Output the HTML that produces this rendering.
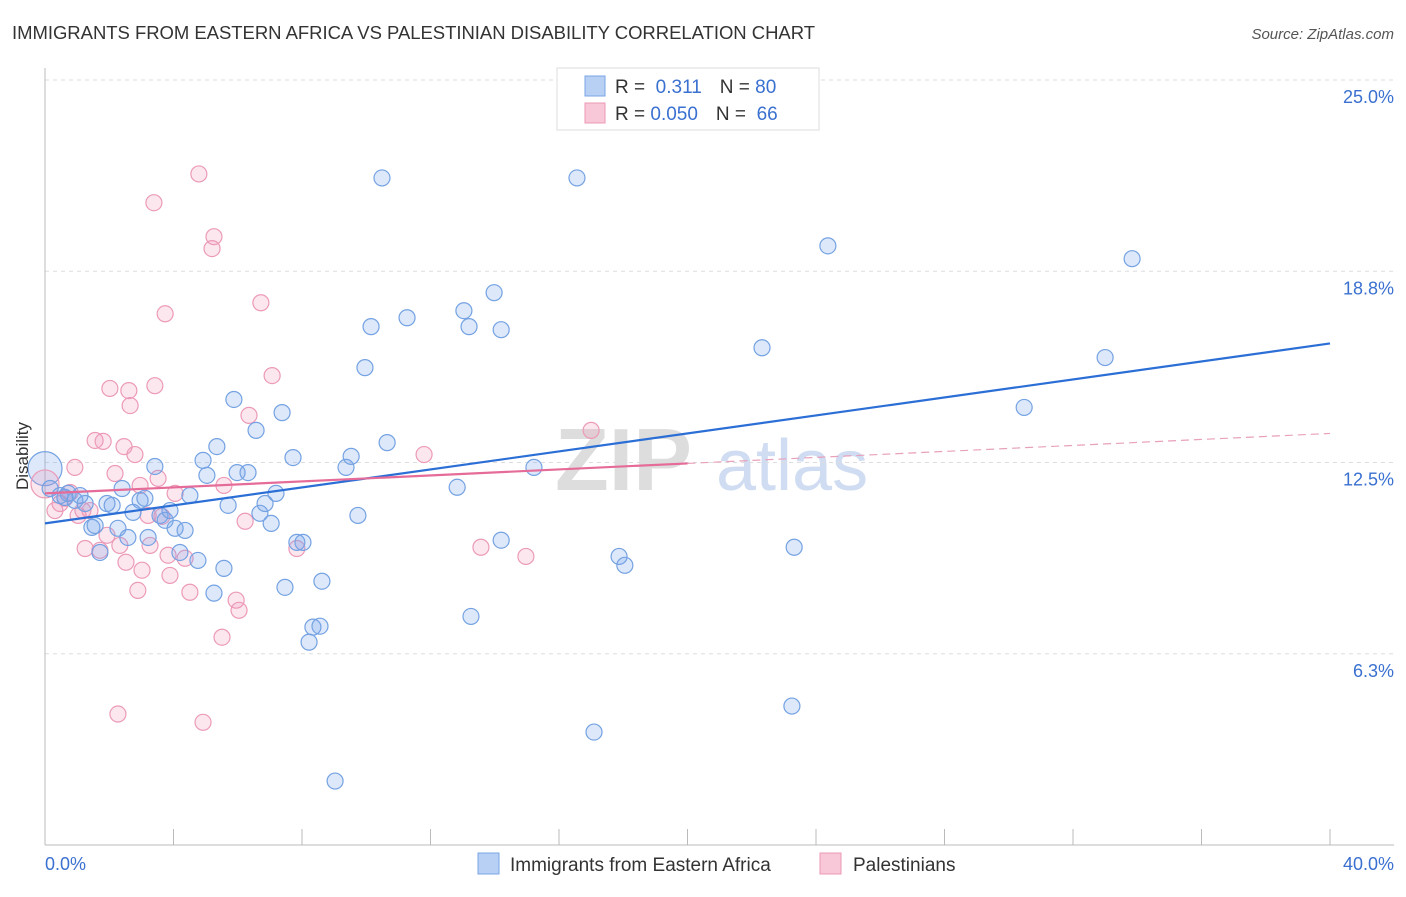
<!DOCTYPE html>
<html><head><meta charset="utf-8">
<style>
body{margin:0;background:#fff;font-family:"Liberation Sans",sans-serif;}
svg text{font-family:"Liberation Sans",sans-serif;}
</style></head>
<body>
<svg id="chart" width="1406" height="892" xmlns="http://www.w3.org/2000/svg">
<text x="12" y="39" font-size="18.5" fill="#333" textLength="803">IMMIGRANTS FROM EASTERN AFRICA VS PALESTINIAN DISABILITY CORRELATION CHART</text>
<text x="1394" y="39" font-size="15" fill="#555" font-style="italic" text-anchor="end">Source: ZipAtlas.com</text>
<g>
<text x="555" y="490" font-size="88" fill="#ddd" font-family="Liberation Serif" font-weight="bold">ZIP</text>
<text x="716" y="490" font-size="72" fill="#cfdcf1">atlas</text>
</g>
<g id="grid"></g>
<g id="axes"></g>
<g id="pts"></g>
<g id="lines"></g>
<text x="28" y="456" font-size="17" fill="#333" transform="rotate(-90 28 456)" text-anchor="middle">Disability</text>
<text x="45" y="870" font-size="18" fill="#3a70d0">0.0%</text>
<text x="1394" y="870" font-size="18" fill="#3a70d0" text-anchor="end">40.0%</text>
<g>
<rect x="557" y="68" width="262" height="62" fill="#fff" stroke="#ddd"/>
<rect x="585" y="76" width="20" height="20" fill="#b8d0f4" stroke="#7aa4e4"/>
<rect x="585" y="103" width="20" height="20" fill="#f9c8d8" stroke="#ec98b6"/>
<text x="615" y="93" font-size="19" fill="#333">R = <tspan fill="#3a70d0">&#160;0.311</tspan><tspan dx="18">N =</tspan><tspan fill="#3a70d0"> 80</tspan></text>
<text x="615" y="120" font-size="19" fill="#333">R = <tspan fill="#3a70d0">0.050</tspan><tspan dx="18">N =</tspan><tspan fill="#3a70d0">&#160; 66</tspan></text>
</g>
<g>
<rect x="478" y="853" width="21" height="21" fill="#b8d0f4" stroke="#7aa4e4"/>
<text x="510" y="871" font-size="19" fill="#333">Immigrants from Eastern Africa</text>
<rect x="820" y="853" width="21" height="21" fill="#f9c8d8" stroke="#ec98b6"/>
<text x="853" y="871" font-size="19" fill="#333">Palestinians</text>
</g>
</svg>
<script>
const yTicks=[6.25,12.5,18.75,25];
const yTickLabels=["6.3%","12.5%","18.8%","25.0%"];
const xTicks=[0,4,8,12,16,20,24,28,32,36,40];
const blueX=[0.16,0.47,0.72,0.93,1.09,0.62,1.25,1.46,1.56,1.71,1.93,2.09,2.27,2.40,2.58,2.74,2.96,3.11,3.21,3.42,3.58,3.74,3.89,4.05,4.20,4.36,4.51,4.76,4.92,5.04,5.26,5.35,5.57,5.70,5.88,5.98,6.32,6.57,6.69,6.85,7.04,7.19,7.38,7.47,7.72,7.84,8.03,8.22,8.34,8.56,8.62,9.03,9.37,9.53,9.74,9.96,10.15,10.49,10.65,11.27,12.83,13.04,13.20,13.26,13.98,14.20,14.20,15.22,16.56,17.09,17.87,18.05,22.32,23.25,23.32,24.37,30.48,33.00,33.84];
const blueY=[11.65,11.42,11.49,11.26,11.42,11.36,11.16,10.38,10.44,9.56,11.16,11.10,10.35,11.65,10.05,10.87,11.26,11.33,10.05,12.37,10.77,10.61,10.93,10.35,9.56,10.28,11.42,9.30,12.57,12.08,8.23,13.02,9.04,11.10,14.56,12.17,12.17,13.55,10.84,11.16,10.51,11.49,14.13,8.42,12.66,9.89,9.89,6.63,7.12,7.15,8.62,2.09,12.34,12.70,10.77,15.60,16.94,21.80,13.15,17.23,11.69,17.46,16.94,7.47,18.05,16.84,9.96,12.34,21.80,3.69,9.43,9.14,16.25,4.54,9.73,19.58,14.30,15.93,19.16];
const pinkX=[0.31,0.47,0.62,0.78,0.93,1.03,1.18,1.25,1.40,1.56,1.71,1.81,1.93,2.02,2.18,2.27,2.33,2.46,2.52,2.61,2.65,2.80,2.89,2.96,3.02,3.21,3.27,3.39,3.42,3.52,3.64,3.74,3.83,3.89,4.05,4.36,4.51,4.79,4.92,5.20,5.26,5.51,5.57,5.95,6.04,6.23,6.35,6.72,7.07,7.84,11.80,13.57,14.97,17.00];
const pinkY=[10.93,11.16,11.33,11.52,12.34,10.77,10.93,9.69,10.93,13.22,9.63,13.19,10.12,14.92,12.14,4.28,9.79,13.02,9.24,14.85,14.36,12.76,8.32,11.75,8.98,10.77,9.79,20.99,15.01,11.98,10.74,17.36,9.47,8.81,11.49,9.37,8.26,21.93,4.01,19.49,19.88,6.79,11.75,8.00,7.67,10.58,14.04,17.72,15.34,9.69,12.76,9.73,9.43,13.55];
const bigBlue=[0.0,12.3];
const bigPink=[0.0,11.8];
const blueLine=[10.51,16.39];
const pinkLine=[11.49,13.45];
const NS="http://www.w3.org/2000/svg";
const X0=45,X1=1330,Y0=845,YTOP=80;
const sx=v=>X0+(v/40)*(X1-X0);
const sy=v=>Y0-(v/25)*(Y0-YTOP);
function mk(tag,attrs,parent){const e=document.createElementNS(NS,tag);for(const k in attrs)e.setAttribute(k,attrs[k]);parent.appendChild(e);return e;}
const grid=document.getElementById('grid'),axes=document.getElementById('axes'),pts=document.getElementById('pts'),lines=document.getElementById('lines');
yTicks.forEach((t,i)=>{
 const l=mk('line',{x1:X0,x2:1394,y1:sy(t),y2:sy(t),stroke:'#ddd','stroke-dasharray':'4,4'},grid);
 
 
 const tx=mk('text',{x:1394,y:sy(t)+23,'font-size':18,fill:'#3a70d0','text-anchor':'end'},grid);
 tx.textContent=yTickLabels[i];
 
 
});
const ya=mk('line',{x1:X0,x2:X0,y1:68,y2:Y0,stroke:'#bbb'},axes);


const xa=mk('line',{x1:X0,x2:1394,y1:Y0,y2:Y0,stroke:'#bbb'},axes);


xTicks.forEach(t=>{
 const l=mk('line',{x1:sx(t),x2:sx(t),y1:829,y2:Y0,stroke:'#bbb'},axes);
 
 
});
function dot(x,y,r,c,name){
 const e=mk('circle',{cx:sx(x),cy:sy(y),r:r,fill:c==='b'?'rgba(120,165,235,0.25)':'rgba(240,145,180,0.22)',stroke:c==='b'?'#74a2e2':'#ec9ab8','stroke-width':1.2},pts);
 
 
}
dot(bigBlue[0],bigBlue[1],17,'b','blue-point-large');
dot(bigPink[0],bigPink[1],14,'p','pink-point-large');
pinkX.forEach((x,i)=>dot(x,pinkY[i],8,'p','pink-point'));
blueX.forEach((x,i)=>dot(x,blueY[i],8,'b','blue-point'));
const bl=mk('line',{x1:sx(0),y1:sy(blueLine[0]),x2:sx(40),y2:sy(blueLine[1]),stroke:'#2b6fd6','stroke-width':2.2},lines);


const pm=pinkLine[0]+(pinkLine[1]-pinkLine[0])*0.5;
const pl=mk('line',{x1:sx(0),y1:sy(pinkLine[0]),x2:sx(20),y2:sy(pm),stroke:'#e56b98','stroke-width':2.2},lines);


const pd=mk('line',{x1:sx(20),y1:sy(pm),x2:sx(40),y2:sy(pinkLine[1]),stroke:'#e8a0bb','stroke-width':1.2,'stroke-dasharray':'8,5'},lines);


</script>
</body></html>
